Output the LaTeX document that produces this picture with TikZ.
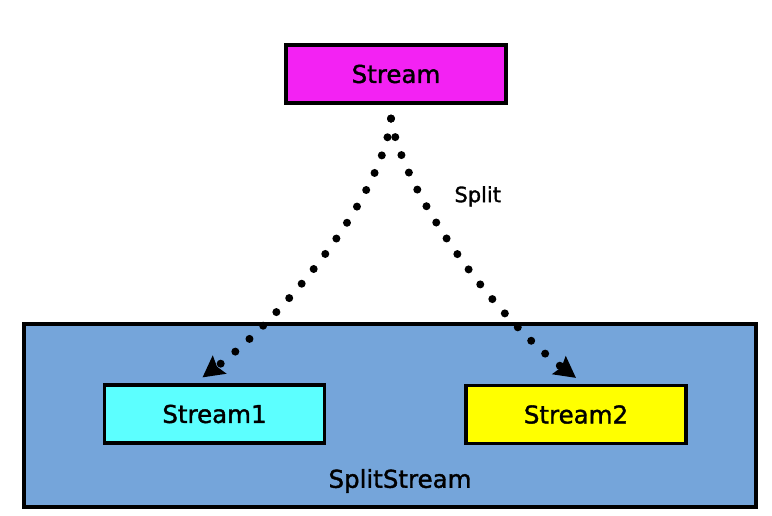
\documentclass[tikz,border=0pt]{standalone}
\usepackage{fontspec}
\setmainfont{DejaVu Sans}[BoldFont={DejaVu Sans}, BoldFeatures={FakeBold=1.5}]
\usetikzlibrary{positioning,arrows.meta}
\definecolor{streampink}{HTML}{F322F3}
\definecolor{splitblue}{HTML}{75A5DA}
\definecolor{lightcyan}{HTML}{5CFFFF}
\definecolor{brightyellow}{HTML}{FFFF00}

\tikzset{
  streambox/.style={draw, line width=3.2pt, minimum width=220pt, minimum height=58pt,
    font=\fontsize{24.5}{28}\selectfont\bfseries},
  dotarrow/.style={line width=8pt, line cap=round, dash pattern=on 0pt off 19pt,
    -{Stealth[length=21pt,width=22pt,inset=3pt]}}
}

\begin{document}
\begin{tikzpicture}[x=1pt,y=-1pt]
   \useasboundingbox (0,0) rectangle (772,515);
   \node[draw, line width=3.2pt, fill=splitblue, minimum width=732pt, minimum height=183pt]
     (splitstream) at (390,415.5) {};
   \node[font=\fontsize{24.5}{28}\selectfont\bfseries] (splitlabel) at (400,481) {SplitStream};
   \node[streambox, fill=streampink] (stream) at (396,74) {Stream};
   \node[streambox, fill=lightcyan] (stream1) at (214.5,414) {Stream1};
   \node[streambox, fill=brightyellow] (stream2) at (576,414.5) {Stream2};
   % both splits leave from just under Stream
   \draw[dotarrow] ([shift={(-5,14)}]stream.south) .. controls +(-9,80) and +(80,-60) ..
     ([shift={(-12,-6)}]stream1.north);
   \draw[dotarrow] ([shift={(-5,14)}]stream.south) .. controls +(12,75) and +(-80,-60) ..
     node[pos=0.3, anchor=west, xshift=26pt, font=\fontsize{21}{24}\selectfont\bfseries] (splittext) {Split}
     ([shift={(0,-6)}]stream2.north);
\end{tikzpicture}
\end{document}
